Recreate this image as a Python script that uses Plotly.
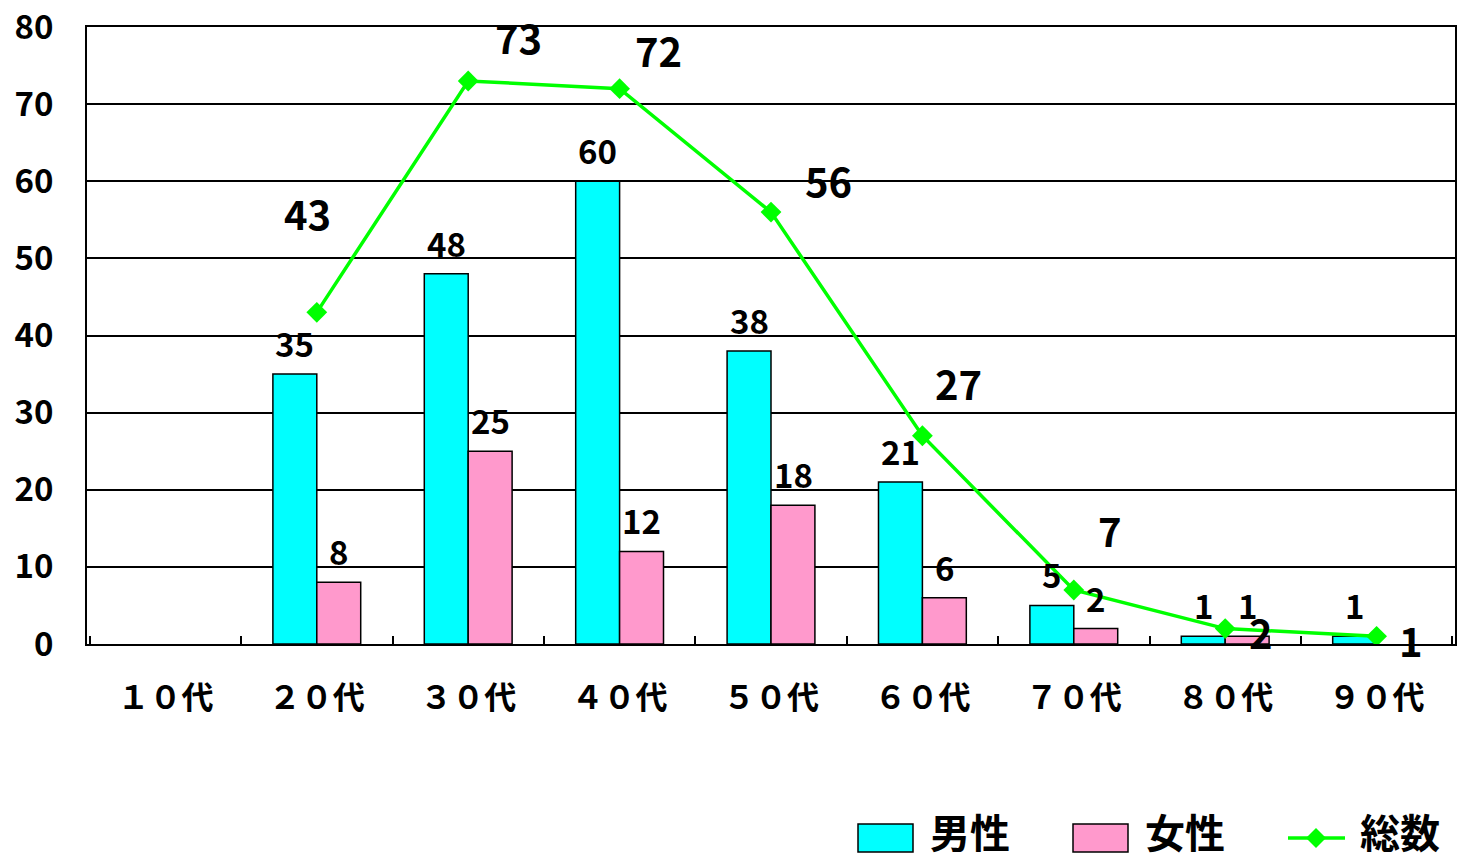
import plotly.graph_objects as go

categories = ["１０代", "２０代", "３０代", "４０代", "５０代", "６０代", "７０代", "８０代", "９０代"]
male = [None, 35, 48, 60, 38, 21, 5, 1, 1]
female = [None, 8, 25, 12, 18, 6, 2, 1, None]
total = [None, 43, 73, 72, 56, 27, 7, 2, 1]
# manual label offsets (px) for total labels, as in the source chart
total_dx = [0, -9, 50, 39, 57, 36, 36, 36, 34]
total_dy = [0, 99, 44, 39, 32, 53, 60, -3, -4]

FONT = "Noto Sans CJK JP"
CYAN = "#00FFFF"
PINK = "#FF99CC"
GREEN = "#00FF00"

W, H = 1458, 861
ML, MR, MT, MB = 87, 3, 27, 217
PW = W - ML - MR
PH = H - MT - MB


def px(xp):
    return (xp - ML) / PW


def py(yp):
    return (H - MB - yp) / PH


fig = go.Figure()
fig.add_bar(x=categories, y=male, name="男性", marker=dict(color=CYAN, line=dict(color="black", width=1.5)))
fig.add_bar(x=categories, y=female, name="女性", marker=dict(color=PINK, line=dict(color="black", width=1.5)))
fig.add_scatter(x=categories, y=total, name="総数", mode="lines+markers",
                line=dict(color=GREEN, width=3.5),
                marker=dict(symbol="diamond", size=16, color=GREEN))

ann = []
for c, v in zip(categories, male):
    if v is not None:
        ann.append(dict(x=c, y=v, text=str(v), showarrow=False, xshift=-22, yshift=31,
                        font=dict(size=33, color="black", family=FONT, weight="bold")))
for c, v in zip(categories, female):
    if v is not None:
        ann.append(dict(x=c, y=v, text=str(v), showarrow=False, xshift=22, yshift=31,
                        font=dict(size=33, color="black", family=FONT, weight="bold")))
for c, v, dx, dy in zip(categories, total, total_dx, total_dy):
    if v is not None:
        ann.append(dict(x=c, y=v, text=str(v), showarrow=False, xshift=dx, yshift=dy,
                        font=dict(size=40, color="black", family=FONT, weight="bold")))

# custom legend (bottom right)
shapes = []
leg_y = 838
items = [("rect", CYAN, 858, 928, "男性"), ("rect", PINK, 1073, 1143, "女性"), ("line", GREEN, 1288, 1358, "総数")]
for kind, col, x0, tx, label in items:
    if kind == "rect":
        shapes.append(dict(type="rect", xref="paper", yref="paper",
                           x0=px(x0), x1=px(x0 + 55), y0=py(leg_y - 14), y1=py(leg_y + 14),
                           fillcolor=col, line=dict(color="black", width=1.5)))
    else:
        shapes.append(dict(type="line", xref="paper", yref="paper",
                           x0=px(x0), x1=px(x0 + 57), y0=py(leg_y), y1=py(leg_y),
                           line=dict(color=col, width=3.5)))
        cx = x0 + 28
        path = "M {} {} L {} {} L {} {} L {} {} Z".format(
            px(cx - 10), py(leg_y), px(cx), py(leg_y - 10), px(cx + 10), py(leg_y), px(cx), py(leg_y + 10))
        shapes.append(dict(type="path", xref="paper", yref="paper", path=path,
                           fillcolor=col, line=dict(color=col, width=0)))
    ann.append(dict(xref="paper", yref="paper", x=px(tx), y=py(leg_y - 7), xanchor="left", yanchor="middle",
                    text=label, showarrow=False,
                    font=dict(size=40, color="black", family=FONT, weight="bold")))

fig.update_layout(
    width=W, height=H,
    margin=dict(l=ML, r=MR, t=MT, b=MB),
    plot_bgcolor="white", paper_bgcolor="white",
    barmode="group", bargap=0.42, bargroupgap=0,
    font=dict(family=FONT, color="black"),
    annotations=ann,
    shapes=shapes,
    showlegend=False,
    xaxis=dict(showline=True, linecolor="black", linewidth=2, mirror=True, automargin=False,
               ticks="inside", tickson="boundaries", ticklen=8, tickcolor="black", tickwidth=1.5,
               tickfont=dict(size=32, family=FONT, color="black", weight="bold"), showgrid=False,
               ticklabelstandoff=25),
    yaxis=dict(range=[0, 80], dtick=10, showline=True, linecolor="black", linewidth=2, mirror=True,
               automargin=False,
               showgrid=True, gridcolor="black", gridwidth=1.5, zeroline=False,
               ticks="", tickfont=dict(size=33, family=FONT, color="black", weight="bold"),
               ticklabelstandoff=25),
)

fig.write_html("out.html", config={"displayModeBar": False},
               post_script="document.body.style.margin='0';document.body.style.overflow='hidden';")
